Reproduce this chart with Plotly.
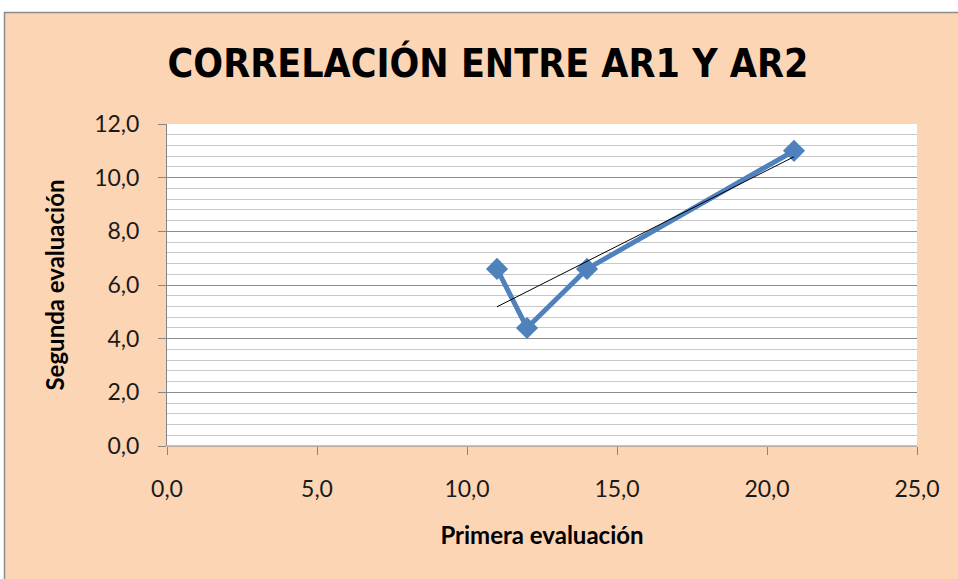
import numpy as np
import plotly.graph_objects as go

# Data
primera = [11.0, 12.0, 14.0, 20.9]
segunda = [6.6, 4.4, 6.6, 11.0]

x_range = [0, 25]
y_range = [0, 12]

# Linear trendline (least squares)
slope, intercept = np.polyfit(primera, segunda, 1)
tx = [min(primera), max(primera)]
ty = [slope * v + intercept for v in tx]

PEACH = "#FCD5B5"
FONT = "Lato, Open Sans, sans-serif"
TFONT = "DejaVu Sans Condensed, Lato, sans-serif"

fig = go.Figure()
fig.add_trace(go.Scatter(
    x=primera, y=segunda, mode="lines+markers",
    line=dict(color="#4F81BD", width=5),
    marker=dict(symbol="diamond", size=17, color="#4F81BD"),
    showlegend=False, hoverinfo="x+y"))
fig.add_trace(go.Scatter(
    x=tx, y=ty, mode="lines",
    line=dict(color="#000000", width=1),
    showlegend=False, hoverinfo="skip"))

L, R, T, B = 167, 41, 124, 133
W, H = 958, 579
pw, ph = W - L - R, H - T - B

def px_to_paper_x(px):
    return (px - L) / pw

def px_to_paper_y(py):
    return (H - B - py) / ph

fig.update_layout(
    width=W, height=H,
    margin=dict(l=L, r=R, t=T, b=B, pad=0),
    paper_bgcolor=PEACH, plot_bgcolor="white",
    separators=",.",
    font=dict(family=FONT, size=23, color="#000000"),
    title=dict(text="<b>CORRELACIÓN ENTRE AR1 Y AR2</b>",
               x=488 / W, xanchor="center", xref="container",
               y=1 - 63 / H, yanchor="middle", yref="container",
               font=dict(family=TFONT, size=39, color="#000000")),
    xaxis=dict(range=x_range, dtick=5, tick0=0, tickformat=".1f",
               showgrid=False, zeroline=False,
               showline=False, ticks="outside", ticklen=8, tickcolor="#868686",
               ticklabelstandoff=14,
               tickfont=dict(family=FONT, size=23, color="#1a1a1a"),
               title=dict(text="<b>Primera evaluación</b>", standoff=26,
                          font=dict(family=FONT, size=24))),
    yaxis=dict(range=y_range, dtick=2, tick0=0, tickformat=".1f",
               showgrid=True, gridcolor="#8C8C8C", gridwidth=1,
               minor=dict(dtick=0.4, showgrid=True, gridcolor="#C8C8C8", gridwidth=1),
               zeroline=False,
               showline=True, linecolor="#868686", linewidth=1,
               ticks="outside", ticklen=8, tickcolor="#868686",
               ticklabelstandoff=14,
               tickfont=dict(family=FONT, size=23, color="#1a1a1a"),
               title=dict(text="<b>Segunda evaluación</b>", standoff=22,
                          font=dict(family=FONT, size=24))),
)

# x-axis baseline
fig.add_shape(type="line", xref="paper", yref="paper",
              x0=0, x1=1, y0=0, y1=0,
              line=dict(color="#868686", width=1), layer="above")

# white strips outside the chart border, and the gray border
fig.add_shape(type="rect", xref="paper", yref="paper",
              x0=px_to_paper_x(-5), x1=px_to_paper_x(W + 5),
              y0=px_to_paper_y(12), y1=px_to_paper_y(-5),
              fillcolor="white", line=dict(width=0), layer="above")
fig.add_shape(type="rect", xref="paper", yref="paper",
              x0=px_to_paper_x(-5), x1=px_to_paper_x(4),
              y0=px_to_paper_y(H + 5), y1=px_to_paper_y(-5),
              fillcolor="white", line=dict(width=0), layer="above")
fig.add_shape(type="line", xref="paper", yref="paper",
              x0=px_to_paper_x(4), x1=px_to_paper_x(W + 5),
              y0=px_to_paper_y(12.5), y1=px_to_paper_y(12.5),
              line=dict(color="#8C8C8C", width=1.5), layer="above")
fig.add_shape(type="line", xref="paper", yref="paper",
              x0=px_to_paper_x(4.5), x1=px_to_paper_x(4.5),
              y0=px_to_paper_y(12), y1=px_to_paper_y(H + 5),
              line=dict(color="#8C8C8C", width=1.5), layer="above")

fig.write_html("out.html", config={"displayModeBar": False},
               post_script="document.body.style.margin='0px';document.body.style.overflow='hidden';")
